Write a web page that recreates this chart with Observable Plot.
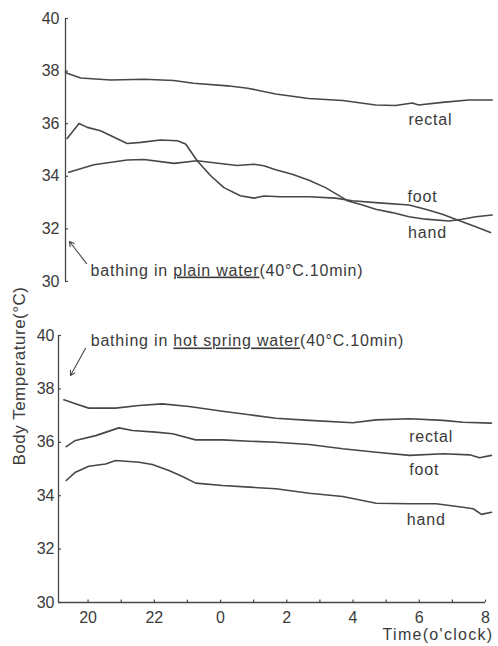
<!DOCTYPE html>
<html><head><meta charset="utf-8">
<script src="https://cdn.jsdelivr.net/npm/d3@7"></script>
<script src="https://cdn.jsdelivr.net/npm/@observablehq/plot@0.6"></script>
<style>
body{margin:0;background:#fff;}
#wrap{position:relative;width:498px;height:646px;overflow:hidden;font-family:"Liberation Sans",sans-serif;background:#fff;}
#top{position:absolute;left:0;top:0;}
#bot{position:absolute;left:0;top:300px;}
#ylab{position:absolute;left:20px;top:376px;transform:translate(-50%,-50%) rotate(-90deg);white-space:nowrap;font-size:17px;color:#3c3c3c;letter-spacing:0.5px;}
</style></head>
<body><div id="wrap"><div id="top"></div><div id="bot"></div><div id="ylab">Body Temperature(°C)</div></div>
<script>
// ---- data (time in hours, 24 = midnight; temperature in °C) ----
const yTicks = [30, 32, 34, 36, 38, 40];
const xTicks = [20, 22, 24, 26, 28, 30, 32];
const hourTicks = [20, 21, 22, 23, 24, 25, 26, 27, 28, 29, 30, 31, 32];

// plain water panel
const plainRectal = [[19.30,37.97],[19.35,37.92],[19.76,37.74],[20.67,37.66],[21.68,37.69],[22.58,37.64],[23.18,37.54],[24.21,37.44],[24.82,37.35],[25.67,37.13],[26.67,36.96],[27.70,36.88],[28.70,36.71],[29.30,36.69],[29.81,36.79],[30.00,36.71],[30.72,36.81],[31.52,36.90],[32.23,36.90]];
const plainFoot = [[19.35,35.44],[19.71,36.01],[19.96,35.86],[20.36,35.73],[21.17,35.25],[21.58,35.29],[22.18,35.38],[22.69,35.35],[22.94,35.23],[23.29,34.59],[23.70,34.02],[24.10,33.57],[24.60,33.26],[25.01,33.17],[25.31,33.25],[25.82,33.22],[26.68,33.22],[27.48,33.17],[27.99,33.07],[28.70,33.00],[29.71,32.91],[30.21,32.75],[30.72,32.56],[31.12,32.37],[31.73,32.08],[32.18,31.86]];
const plainHand = [[19.40,34.15],[20.16,34.44],[21.17,34.62],[21.68,34.64],[22.59,34.49],[23.29,34.59],[24.50,34.41],[25.01,34.46],[25.31,34.40],[25.67,34.25],[26.17,34.08],[26.68,33.85],[27.18,33.57],[27.69,33.19],[27.84,33.07],[28.30,32.91],[28.70,32.75],[29.20,32.62],[29.71,32.46],[30.21,32.37],[30.92,32.30],[31.32,32.37],[31.73,32.46],[32.23,32.53]];

// hot spring panel
const springRectal = [[19.27,37.59],[19.62,37.44],[20.02,37.28],[20.83,37.28],[21.54,37.38],[22.24,37.44],[23.05,37.34],[24.06,37.16],[24.87,37.03],[25.67,36.90],[26.68,36.82],[27.99,36.73],[28.70,36.84],[29.71,36.88],[30.72,36.82],[31.32,36.75],[32.18,36.72]];
const springFoot = [[19.34,35.84],[19.62,36.07],[20.23,36.25],[20.93,36.54],[21.34,36.44],[22.04,36.38],[22.55,36.32],[23.25,36.09],[24.06,36.09],[24.87,36.04],[25.67,36.00],[26.68,35.92],[27.69,35.76],[28.70,35.63],[29.71,35.51],[30.72,35.57],[31.52,35.53],[31.82,35.42],[32.18,35.51]];
const springHand = [[19.34,34.57],[19.62,34.88],[20.02,35.10],[20.53,35.19],[20.83,35.32],[21.54,35.25],[21.94,35.17],[22.44,34.94],[22.85,34.72],[23.25,34.47],[24.06,34.38],[24.87,34.32],[25.67,34.26],[26.68,34.09],[27.69,33.97],[28.70,33.72],[29.71,33.70],[30.51,33.70],[31.32,33.57],[31.63,33.51],[31.88,33.30],[32.18,33.38]];

// series labels
const plainLabels = [{name:"rectal", t:30.36, v:36.16},{name:"foot", t:30.12, v:33.23},{name:"hand", t:30.27, v:31.83}];
const springLabels = [{name:"rectal", t:30.36, v:36.22},{name:"foot", t:30.15, v:34.98},{name:"hand", t:30.21, v:33.11}];

// annotations
const plainNote = {pre:"bathing in ", under:"plain water", post:"(40°C.10min)", t:20.06, v:30.42};
const springNote = {pre:"bathing in ", under:"hot spring water", post:"(40°C.10min)", t:20.08, v:39.78};
const plainArrow = {t1:19.94, v1:30.68, t2:19.42, v2:31.52};
const springArrow = {t1:19.92, v1:39.51, t2:19.47, v2:38.50};
const timeLabel = "Time(o'clock)";

// ---- drawing ----
const C = "#474747";
const T = "#3a3a3a";
const FONT = "Liberation Sans";

function underline(svg, note) {
  d3.select(svg).selectAll("text").filter(function(){ return this.textContent.startsWith("bathing"); })
    .style("letter-spacing", "0.8px")
    .each(function(){
      const s = d3.select(this);
      s.text(null);
      s.append("tspan").text(note.pre);
      s.append("tspan").attr("text-decoration","underline").style("text-decoration","underline").text(note.under);
      s.append("tspan").text(note.post);
    });
}
function spacing(svg, names, px) {
  d3.select(svg).selectAll("text").filter(function(){ return names.includes(this.textContent); })
    .style("letter-spacing", px + "px");
}

const top0 = 19.30, bot0 = 19.107;

const topPlot = Plot.plot({
  width: 498, height: 300,
  marginLeft: 65, marginRight: 6, marginTop: 18, marginBottom: 19,
  style: {fontFamily: FONT, fontSize: "16px", color: T, background: "transparent", overflow: "visible"},
  x: {domain: [top0, 32.24], axis: null},
  y: {domain: [30, 40], ticks: yTicks, tickSize: 0, tickPadding: 6, label: null},
  marks: [
    Plot.ruleX([top0], {y1: 30, y2: 40, stroke: C, strokeWidth: 1.3}),
    Plot.ruleY(yTicks, {x1: top0, x2: top0 + 0.09, stroke: C, strokeWidth: 1.2}),
    Plot.line(plainRectal, {x: d => d[0], y: d => d[1], stroke: C, strokeWidth: 1.6}),
    Plot.line(plainFoot, {x: d => d[0], y: d => d[1], stroke: C, strokeWidth: 1.6}),
    Plot.line(plainHand, {x: d => d[0], y: d => d[1], stroke: C, strokeWidth: 1.6}),
    Plot.text(plainLabels, {x: "t", y: "v", text: "name", fill: T, fontSize: 16}),
    Plot.text([plainNote], {x: "t", y: "v", text: d => d.pre + d.under + d.post, textAnchor: "start", fill: T, fontSize: 16}),
    Plot.arrow([plainArrow], {x1: "t1", y1: "v1", x2: "t2", y2: "v2", stroke: C, strokeWidth: 1.1, headLength: 7})
  ]
});
underline(topPlot, plainNote);
spacing(topPlot, ["rectal", "foot", "hand"], 0.8);
document.getElementById("top").append(topPlot);

const botPlot = Plot.plot({
  width: 498, height: 346,
  marginLeft: 58, marginRight: 13, marginTop: 35, marginBottom: 44,
  style: {fontFamily: FONT, fontSize: "16px", color: T, background: "transparent", overflow: "visible"},
  x: {domain: [bot0, 32], ticks: xTicks, tickFormat: d => String(d % 24), tickSize: 0, tickPadding: 9, label: null},
  y: {domain: [30, 40], ticks: yTicks, tickSize: 0, tickPadding: 4, label: null},
  marks: [
    Plot.ruleX([bot0], {y1: 30, y2: 40, stroke: C, strokeWidth: 1.3}),
    Plot.ruleY([30], {x1: bot0, x2: 32, stroke: C, strokeWidth: 1.3}),
    Plot.ruleY(yTicks, {x1: bot0, x2: bot0 + 0.09, stroke: C, strokeWidth: 1.2}),
    Plot.ruleX(hourTicks, {y1: 30, y2: 30.09, stroke: C, strokeWidth: 1.2}),
    Plot.line(springRectal, {x: d => d[0], y: d => d[1], stroke: C, strokeWidth: 1.6}),
    Plot.line(springFoot, {x: d => d[0], y: d => d[1], stroke: C, strokeWidth: 1.6}),
    Plot.line(springHand, {x: d => d[0], y: d => d[1], stroke: C, strokeWidth: 1.6}),
    Plot.text(springLabels, {x: "t", y: "v", text: "name", fill: T, fontSize: 16}),
    Plot.text([springNote], {x: "t", y: "v", text: d => d.pre + d.under + d.post, textAnchor: "start", fill: T, fontSize: 16}),
    Plot.arrow([springArrow], {x1: "t1", y1: "v1", x2: "t2", y2: "v2", stroke: C, strokeWidth: 1.1, headLength: 7}),
    Plot.text([timeLabel], {frameAnchor: "bottom-right", textAnchor: "end", dx: 8, dy: 37, fill: T, fontSize: 16})
  ]
});
underline(botPlot, springNote);
spacing(botPlot, ["rectal", "foot", "hand"], 0.8);
spacing(botPlot, [timeLabel], 1.3);
document.getElementById("bot").append(botPlot);
</script>
</body></html>
